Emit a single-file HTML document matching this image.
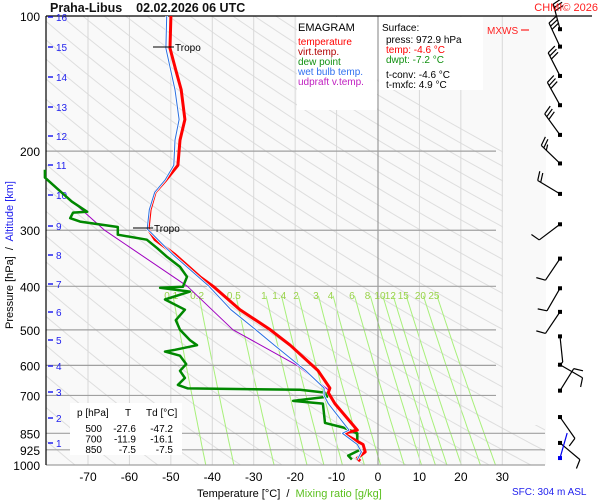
<!DOCTYPE html>
<html><head><meta charset="utf-8"><style>
body{margin:0;background:#fff;}
svg{display:block;font-family:"Liberation Sans",sans-serif;}
.pre{white-space:pre;}
</style></head><body>
<svg id="c" width="600" height="500" viewBox="0 0 600 500"></svg>
<script>
// ---- data ----
const pressureTicks=[100,200,300,400,500,600,700,850,925,1000];
const tempTicks=[-70,-60,-50,-40,-30,-20,-10,0,10,20,30];
const altKm=[16,15,14,13,12,11,10,9,8,7,6,5,4,3,2,1];
const altY=[17,47,77,107,136,165,195,226,255,284,312,340,366,392,418,443];
const tempP=[100,118,132,146,170,189,215,232,247,270,298,315,340,381,400,451,500,541,616,674,690,730,836,850,900,935,965,980];
const tempT=[-50,-50.2,-48.8,-47.5,-46.6,-47.8,-48.3,-51.2,-53.8,-55,-55.5,-53.8,-49,-43,-39.8,-33.3,-26,-21.2,-14.5,-11.6,-12,-10.4,-5,-8.4,-3.6,-3.1,-5,-4.3];
const dewP=[220,229,242,259,273,274,282,287,295,307,315,329,344,362,381,401,403,411,428,451,476,500,527,541,554,559,571,596,617,640,663,675,680,690,705,720,730,806,825,850,900,925,953,972];
const dewT=[-80.4,-80.4,-77.5,-73.9,-70.2,-73.6,-74.3,-71.9,-62.8,-62.8,-55.8,-53.3,-50.9,-47.8,-46.1,-47.1,-52.6,-45.4,-51.4,-46.6,-48.8,-47.8,-45.4,-43.7,-49,-51.4,-47.8,-46.3,-47.8,-46.6,-48.3,-45.9,-18.8,-12.8,-12.3,-20.5,-13.3,-12.8,-8.4,-5,-5,-4.3,-7.2,-6.3];
const wbP=[100,118,146,170,189,215,232,247,270,298,340,400,451,500,541,616,674,700,730,836,850,900,935,972];
const wbT=[-51,-51.2,-49,-48,-49,-49.3,-51.4,-53.9,-55.2,-55.7,-49.5,-40.8,-35.5,-29.5,-25,-17.5,-13,-13,-12,-7,-8.6,-5,-4,-5];
const parcelP=[230,300,400,500,600,680];
const parcelT=[-80,-66,-46,-35,-19.5,-12];
const mixRatios=[0.1,0.2,0.5,1,1.4,2,3,4,6,8,10,12,15,20,25];
const thetas=[];for(let t=180;t<=480;t+=10)thetas.push(t);
const windP=[107,117,136,158,184,213,249,291,347,404,456,517,598,683,782,893,965];
const windDir=[345,335,333,331,324,314,301,233,214,210,214,174,120,32,145,130,16];
const windSpd=[30,30,30,30,30,25,20,10,10,10,10,5,10,10,10,10,0];

// ---- scales ----
const L=46,T0=16,B=465;
const y=p=>T0+449*Math.log10(p/100);
const x=t=>378+t*4.143;
const svg=document.getElementById('c');
const NS='http://www.w3.org/2000/svg';
function mk(tag,attrs,parent){const e=document.createElementNS(NS,tag);for(const k in attrs)e.setAttribute(k,attrs[k]);(parent||svg).appendChild(e);return e;}
function txt(s,attrs,parent){const e=mk('text',attrs,parent);e.textContent=s;return e;}

mk('rect',{x:L,y:T0,width:500,height:449,fill:'#f9f9f9'});
const defs=mk('defs',{});
const cp=mk('clipPath',{id:'clip'},defs);
mk('polygon',{points:`${L},${T0} 503,${T0} 503,425 545,425 545,${B} ${L},${B}`},cp);
const grid=mk('g',{'clip-path':'url(#clip)'});



thetas.forEach(th=>{let d='';for(let p=100;p<=1000;p+=10){const t=th*Math.pow(p/1000,0.286)-273.15;d+=(d?'L':'M')+x(t).toFixed(1)+','+y(p).toFixed(1);}
 const e=mk('path',{d,fill:'none',stroke:'#dedede','stroke-width':1},grid);
 
 });
tempTicks.forEach(t=>{const e=mk('line',{x1:x(t),x2:x(t),y1:T0,y2:B,stroke:t===0?'#888':'#d8d8d8','stroke-width':1});
 
 });
function tdOf(w,p){const e=w*p/(622+w);const l=Math.log(e/6.112);return 243.5*l/(17.67-l);}
mixRatios.forEach(w=>{let d='';for(let p=420;p<=1000;p+=20){d+=(d?'L':'M')+x(tdOf(w,p)).toFixed(1)+','+y(p).toFixed(1);}
 const e=mk('path',{d,fill:'none',stroke:'#a8f07a','stroke-width':1},grid);
 
 
 const lb=txt(String(w),{x:x(tdOf(w,400)),y:299,'font-size':10,fill:'#9ad24a','text-anchor':'middle'});
 
 });
pressureTicks.forEach(p=>{if(p===100)return;const e=mk('line',{x1:L,x2:p>=850?545:496,y1:y(p),y2:y(p),stroke:'#a0a0a0','stroke-width':1.2});
 
 
 const lb=txt(String(p),{x:40,y:y(p)+5,'font-size':12,'text-anchor':'end',fill:'#000'});
 
 });
{const lb=txt('100',{x:40,y:21,'font-size':12,'text-anchor':'end'});}
mk('line',{x1:L,x2:592,y1:T0,y2:T0,stroke:'#000','stroke-width':1.2});
mk('line',{x1:L,x2:L,y1:T0,y2:B,stroke:'#000','stroke-width':1.2});
tempTicks.forEach(t=>{const lb=txt(String(t),{x:x(t),y:481,'font-size':12,'text-anchor':'middle'});
 
 });
altKm.forEach((k,i)=>{mk('line',{x1:48,x2:53,y1:altY[i],y2:altY[i],stroke:'#2222ee','stroke-width':1.5});
 const lb=txt(String(k),{x:56,y:altY[i]+4,'font-size':10,fill:'#2222ee'});
 
 });

function line(ps,ts,color,w,name){let d='';ps.forEach((p,i)=>{d+=(i?'L':'M')+x(ts[i]).toFixed(1)+','+y(p).toFixed(1);});
 const e=mk('path',{d,fill:'none',stroke:color,'stroke-width':w,'stroke-linejoin':'round'});
 
 }
line(parcelP,parcelT,'#a000c0',1,'updraft-line');
line(dewP,dewT,'#008800',2.5,'dew-point-line');
line(tempP,tempT,'#ff0000',3,'temperature-line');
line(wbP,wbT,'#ffffff',2.5,'wet-bulb-halo');
line(wbP,wbT,'#2a6fe0',1,'wet-bulb-line');

mk('line',{x1:153,x2:174,y1:47,y2:47,stroke:'#000'});
txt('Tropo',{x:175,y:51,'font-size':10});
mk('line',{x1:133,x2:153,y1:228,y2:228,stroke:'#000'});
txt('Tropo',{x:154,y:232,'font-size':10});

windP.forEach((p,i)=>{const g=mk('g',{});
 
 
 const col=i===windP.length-1?'#0000ee':'#000';
 const cx=560,cy=y(p),a=windDir[i]*Math.PI/180;const ux=Math.sin(a),uy=-Math.cos(a);const Ls=26;
 const tx=cx+ux*Ls,ty=cy+uy*Ls;
 mk('line',{x1:cx,y1:cy,x2:tx,y2:ty,stroke:col,'stroke-width':1.2},g);
 mk('rect',{x:cx-2,y:cy-2,width:4,height:4,fill:col},g);
 const px=-uy,py=ux;let s=windSpd[i],k=0;
 while(s>=5){const full=s>=10;const len=full?9:5;const bx=tx-ux*k*3.5,by=ty-uy*k*3.5;
  mk('line',{x1:bx,y1:by,x2:bx+px*len+ux*3,y2:by+py*len+uy*3,stroke:col,'stroke-width':1.2},g);
  s-=full?10:5;k++;}
});

const lg=mk('g',{});


mk('rect',{x:297,y:17,width:80,height:93,fill:'#fff'},lg);
txt('EMAGRAM',{x:298,y:31,'font-size':11},lg);
[['temperature','#ff0000'],['virt.temp.','#b00000'],['dew point','#109010'],['wet bulb temp.','#3070f0'],['udpraft v.temp.','#c020c0']].forEach((r,i)=>{
 const e=txt(r[0],{x:298,y:45+i*10,'font-size':10,fill:r[1]},lg);
 
 });
mk('rect',{x:379,y:17,width:104,height:73,fill:'#fff'});
txt('Surface:',{x:382,y:31,'font-size':10});
txt('press: 972.9 hPa',{x:386,y:43,'font-size':10});
txt('temp: -4.6 °C',{x:386,y:53,'font-size':10,fill:'#ff0000'});
txt('dwpt: -7.2 °C',{x:386,y:63,'font-size':10,fill:'#109010'});
txt('t-conv: -4.6 °C',{x:386,y:78,'font-size':10});
txt('t-mxfc: 4.9 °C',{x:386,y:88,'font-size':10});

mk('rect',{x:70,y:403,width:112,height:52,fill:'#fff'});
txt('p [hPa]',{x:77,y:416,'font-size':10});
txt('T',{x:125,y:416,'font-size':10});
txt('Td [°C]',{x:146,y:416,'font-size':10});
[['500','-27.6','-47.2'],['700','-11.9','-16.1'],['850','-7.5','-7.5']].forEach((r,i)=>{const yy=432+i*10.5;
 txt(r[0],{x:102,y:yy,'font-size':10,'text-anchor':'end'});
 txt(r[1],{x:136,y:yy,'font-size':10,'text-anchor':'end'});
 txt(r[2],{x:173,y:yy,'font-size':10,'text-anchor':'end'});});

const tt=txt('Praha-Libus    02.02.2026 06 UTC',{x:50,y:12,'font-size':12.5,'font-weight':'bold',class:'pre',fill:'#111'});


txt('CHMI© 2026',{x:598,y:11,'font-size':11,fill:'#ff2020','text-anchor':'end'});
txt('MXWS',{x:487,y:34,'font-size':10,fill:'#ff2020'});
mk('line',{x1:521,x2:529,y1:30,y2:30,stroke:'#ff2020','stroke-width':1.2});
const xt=mk('text',{x:197,y:497,'font-size':11,class:'pre'});


xt.innerHTML='Temperature [°C]  /  <tspan fill="#5cc020">Mixing ratio [g/kg]</tspan>';
txt('SFC: 304 m ASL',{x:512,y:495,'font-size':10,fill:'#2222ee'});
const yt=mk('text',{x:0,y:0,'font-size':11,transform:'translate(13,255) rotate(-90)','text-anchor':'middle',class:'pre'});


yt.innerHTML='Pressure [hPa]  /  <tspan fill="#2222ee">Altitude [km]</tspan>';
</script>
</body></html>
